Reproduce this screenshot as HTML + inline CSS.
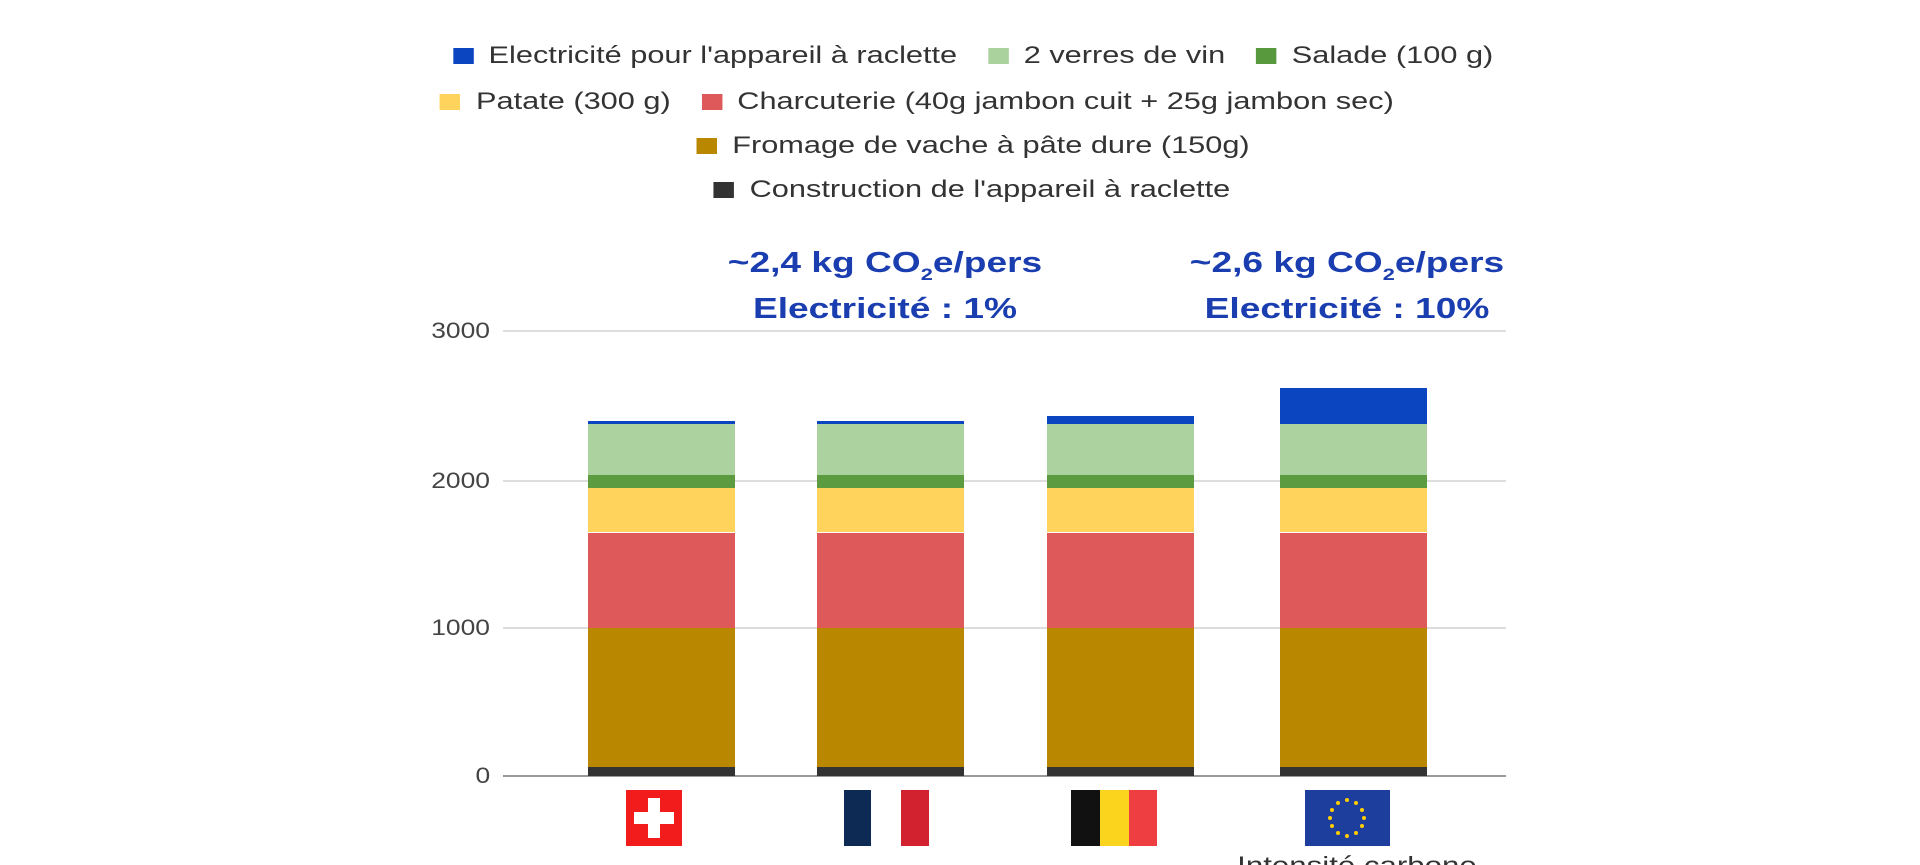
<!DOCTYPE html>
<html><head><meta charset="utf-8"><style>
body{margin:0;width:1920px;height:865px;background:#fff;overflow:hidden;position:relative;font-family:"Liberation Sans",Arial,sans-serif;color:#333}
.leg{position:absolute;left:0;width:1920px;text-align:center;font-size:24px;white-space:nowrap;transform:scaleX(1.28);transform-origin:960px 0}
.leg span{display:inline-block;margin:0 12px}
.leg i{display:inline-block;width:16px;height:16px;margin-right:12px;vertical-align:-1px}
.ann{position:absolute;width:400px;text-align:center;color:#1a3db0;font-weight:bold;font-size:29px;line-height:46px;transform:scaleX(1.28)}
.ann sub{font-size:17px;vertical-align:-8px;line-height:0}
.yl{position:absolute;right:1430px;font-size:22px;color:#444;transform:scaleX(1.2);transform-origin:right 0}
.g{position:absolute;left:503px;width:1003px;height:2px;background:#ddd}
.bar{position:absolute;width:147px}
</style></head><body>
<div class="leg" style="top:42px;left:13px"><span><i style="background:#0b45c0"></i>Electricité pour l'appareil à raclette</span><span><i style="background:#a9d29c"></i>2 verres de vin</span><span><i style="background:#58993e"></i>Salade (100 g)</span></div>
<div class="leg" style="top:88px;left:-43px"><span><i style="background:#ffd35c"></i>Patate (300 g)</span><span><i style="background:#de5a5a"></i>Charcuterie (40g jambon cuit + 25g jambon sec)</span></div>
<div class="leg" style="top:132px;left:13px"><span><i style="background:#b98800"></i>Fromage de vache à pâte dure (150g)</span></div>
<div class="leg" style="top:176px;left:12px"><span><i style="background:#333"></i>Construction de l'appareil à raclette</span></div>
<div class="ann" style="left:685px;top:240px">~2,4 kg CO<sub>2</sub>e/pers<br>Electricité : 1%</div>
<div class="ann" style="left:1147px;top:240px">~2,6 kg CO<sub>2</sub>e/pers<br>Electricité : 10%</div>
<div class="g" style="top:330px"></div><div class="g" style="top:480px"></div><div class="g" style="top:627px"></div><div class="g" style="top:775px;background:#999"></div>
<div class="yl" style="top:318px">3000</div><div class="yl" style="top:468px">2000</div><div class="yl" style="top:615px">1000</div><div class="yl" style="top:763px">0</div>
<div id="bars"></div>
<svg style="position:absolute;left:0;top:0" width="1920" height="865">
<rect x="626" y="790" width="56" height="56" fill="#f21c1c"/><rect x="648" y="798" width="12" height="40" fill="#fff"/><rect x="634" y="812" width="40" height="12" fill="#fff"/>
<rect x="844" y="790" width="27" height="56" fill="#0d2a54"/><rect x="901" y="790" width="28" height="56" fill="#d3222f"/>
<rect x="1071" y="790" width="29" height="56" fill="#111"/><rect x="1100" y="790" width="29" height="56" fill="#fbd41e"/><rect x="1129" y="790" width="28" height="56" fill="#ef3e42"/>
<rect x="1305" y="790" width="85" height="56" fill="#1d3e9c"/>
<g fill="#ffcc00">
<circle cx="1347" cy="800" r="2"/><circle cx="1356" cy="803" r="2"/><circle cx="1362" cy="810" r="2"/><circle cx="1364" cy="818" r="2"/><circle cx="1362" cy="826" r="2"/><circle cx="1356" cy="833" r="2"/><circle cx="1347" cy="836" r="2"/><circle cx="1338" cy="833" r="2"/><circle cx="1332" cy="826" r="2"/><circle cx="1330" cy="818" r="2"/><circle cx="1332" cy="810" r="2"/><circle cx="1338" cy="803" r="2"/></g>
<text x="1357" y="874" text-anchor="middle" font-family="Liberation Sans" font-size="25" fill="#333" transform="translate(1357 0) scale(1.25 1) translate(-1357 0)">Intensité carbone</text>
</svg>
<script>
var xs=[588,817,1047,1280],tops=[2390,2390,2425,2615];
var segs=[[0,60,'#333'],[60,1000,'#b98800'],[1000,1640,'#de5a5a'],[1640,1940,'#ffd35c'],[1940,2030,'#5c9b3f'],[2030,2370,'#abd29f']];
var y=v=>776-v*0.1485,h='';
xs.forEach((x,i)=>{segs.concat([[2370,tops[i],'#0b45c0']]).forEach(s=>{h+='<div class="bar" style="left:'+x+'px;top:'+y(s[1]).toFixed(1)+'px;height:'+(y(s[0])-y(s[1])).toFixed(1)+'px;background:'+s[2]+'"></div>'})});
document.getElementById('bars').innerHTML=h;
</script>
</body></html>
